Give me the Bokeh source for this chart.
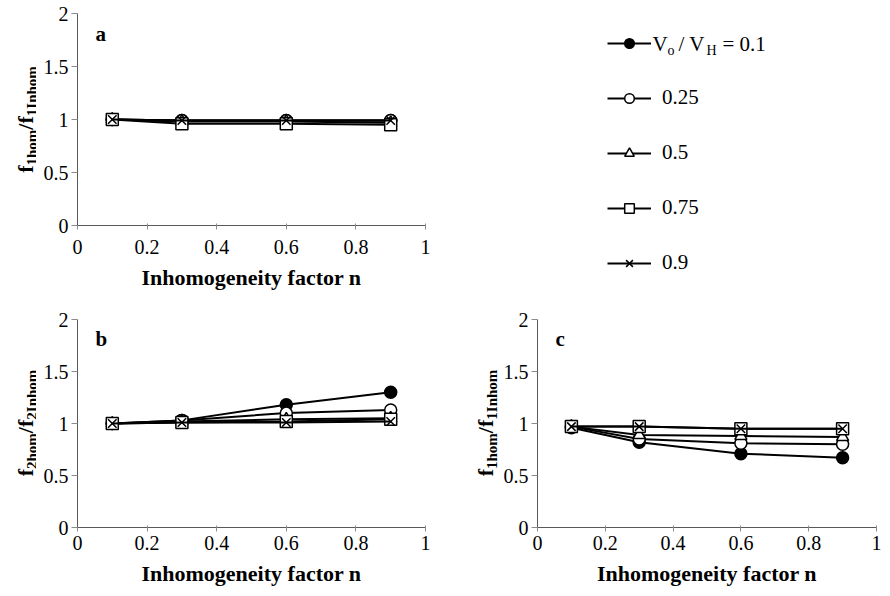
import math
from bokeh.plotting import figure
from bokeh.models import Range1d, FixedTicker, Label, Legend, LegendItem, ColumnDataSource
from bokeh.layouts import row, column
from bokeh.embed import file_html
from bokeh.resources import INLINE

# ---------------- data ----------------
n_values = [0.1, 0.3, 0.6, 0.9]
ratio_labels = ["0.1", "0.25", "0.5", "0.75", "0.9"]

a_r010 = [1.00, 0.99, 0.99, 0.99]
a_r025 = [1.00, 0.99, 0.99, 0.99]
a_r050 = [1.00, 0.98, 0.98, 0.97]
a_r075 = [1.00, 0.96, 0.96, 0.95]
a_r090 = [1.00, 0.99, 0.99, 0.99]

b_r010 = [1.00, 1.03, 1.18, 1.30]
b_r025 = [1.00, 1.03, 1.10, 1.13]
b_r050 = [1.00, 1.02, 1.04, 1.05]
b_r075 = [1.00, 1.01, 1.02, 1.04]
b_r090 = [1.00, 1.01, 1.01, 1.02]

c_r010 = [0.96, 0.82, 0.71, 0.67]
c_r025 = [0.97, 0.85, 0.81, 0.80]
c_r050 = [0.97, 0.89, 0.88, 0.87]
c_r075 = [0.97, 0.97, 0.95, 0.95]
c_r090 = [0.97, 0.97, 0.95, 0.95]

x_ticks = [0, 0.2, 0.4, 0.6, 0.8, 1]
x_tick_labels = ["0", "0.2", "0.4", "0.6", "0.8", "1"]
y_ticks = [0, 0.5, 1, 1.5, 2]
y_tick_labels = ["0", "0.5", "1", "1.5", "2"]

x_title = "Inhomogeneity factor n"

# ---------------- style ----------------
FONT = "Liberation Serif"
markers = ["circle", "circle", "triangle", "square", "x"]
fills = ["black", "white", "white", "white", "white"]

# Times New Roman Bold advance widths (1/1000 em) for the y-title pieces
TNRB = {'f': 333, '1': 500, '2': 500, 'h': 556, 'o': 500, 'm': 833, '/': 278, 'I': 389, 'n': 556}


def tw(s, size):
    return sum(TNRB[c] for c in s) / 1000.0 * size


def style_axes(p, s1, s2):
    xa = p.xaxis[0]
    ya = p.yaxis[0]
    xa.ticker = FixedTicker(ticks=x_ticks)
    xa.major_label_overrides = dict(zip(x_ticks, x_tick_labels))
    ya.ticker = FixedTicker(ticks=y_ticks)
    ya.major_label_overrides = dict(zip(y_ticks, y_tick_labels))
    for ax in (xa, ya):
        ax.axis_line_color = "#595959"
        ax.axis_line_width = 1
        ax.major_tick_line_color = "#8c8c8c"
        ax.minor_tick_line_color = None
        ax.major_label_text_font = FONT
        ax.major_label_text_font_size = "20px"
        ax.major_label_text_color = "black"
    xa.major_tick_in = 2
    xa.major_tick_out = 4
    ya.major_tick_in = 0
    ya.major_tick_out = 6
    xa.major_label_standoff = s1
    ya.major_label_standoff = 3
    xa.axis_label = x_title
    xa.axis_label_text_font = FONT
    xa.axis_label_text_font_size = "22px"
    xa.axis_label_text_font_style = "bold"
    xa.axis_label_text_color = "black"
    xa.axis_label_standoff = s2


def make_panel(width, height, bl, br, bt, bb, series, letter, s1, s2):
    p = figure(width=width, height=height, x_range=Range1d(0, 1), y_range=Range1d(0, 2),
               output_backend="svg", toolbar_location=None, title=None,
               min_border_left=bl, min_border_right=br, min_border_top=bt, min_border_bottom=bb)
    p.grid.visible = False
    p.outline_line_color = None
    style_axes(p, s1, s2)
    frame_h = height - bt - bb
    for vals, mk, fc in zip(series, markers, fills):
        src = ColumnDataSource(dict(n=n_values, v=vals))
        p.line("n", "v", source=src, line_color="black", line_width=2)
        p.scatter("n", "v", source=src, marker=mk, size=12, line_color="black",
                  fill_color=fc, line_width=1.5)
    p.add_layout(Label(x=18, y=frame_h - 20, x_units="screen", y_units="screen", text=letter,
                       text_font=FONT, text_font_size="21px", text_font_style="bold",
                       text_color="black", text_align="left", text_baseline="alphabetic"))
    return p


def make_ylabel(width, height, bt, bb, idx, base_x):
    """Narrow strip (same top/bottom borders as its panel) holding the rotated y title."""
    f = figure(width=width, height=height, x_axis_type=None, y_axis_type=None,
               x_range=Range1d(0, 1), y_range=Range1d(0, 1),
               output_backend="svg", toolbar_location=None, title=None,
               min_border_left=0, min_border_right=0, min_border_top=bt, min_border_bottom=bb)
    f.grid.visible = False
    f.outline_line_color = None
    frame_h = height - bt - bb
    pieces = [("f", False), (idx + "hom", True), ("/f", False), (idx + "Inhom", True)]
    main, sub = 22, 15
    total = sum(tw(t, sub if s else main) for t, s in pieces)
    ypos = frame_h / 2 - total / 2
    for t, s in pieces:
        size = sub if s else main
        f.add_layout(Label(x=base_x + (6 if s else 0), y=ypos, x_units="screen", y_units="screen",
                           text=t, angle=math.pi / 2, text_font=FONT,
                           text_font_size=f"{size}px", text_font_style="bold",
                           text_color="black", text_align="left", text_baseline="alphabetic"))
        ypos += tw(t, size)
    return f


H1 = 293
H2 = 295
# panel a (row 1, left)
ya_fig = make_ylabel(36, H1, 13, 68, "1", 25)
pa = make_panel(416, H1, 41, 27, 13, 68, [a_r010, a_r025, a_r050, a_r075, a_r090], "a", 10, 8)
# panel b (row 2, left)
yb_fig = make_ylabel(36, H2, 26, 60, "2", 25)
pb = make_panel(416, H2, 41, 27, 26, 60, [b_r010, b_r025, b_r050, b_r075, b_r090], "b", 4, 8)
# panel c (row 2, right)
yc_fig = make_ylabel(48, H2, 26, 60, "1", 33)
pc = make_panel(382, H2, 37, 6, 26, 60, [c_r010, c_r025, c_r050, c_r075, c_r090], "c", 4, 8)

# legend (row 1, right)
leg = figure(width=430, height=H1, x_axis_type=None, y_axis_type=None,
             x_range=Range1d(0, 1), y_range=Range1d(10, 11),
             output_backend="svg", toolbar_location=None, title=None,
             min_border_left=155, min_border_top=31, min_border_right=0, min_border_bottom=0)
leg.grid.visible = False
leg.outline_line_color = None
items = []
for i, (lab, mk, fc) in enumerate(zip(ratio_labels, markers, fills)):
    src = ColumnDataSource(dict(n=n_values, v=[a_r010, a_r025, a_r050, a_r075, a_r090][i]))
    lr = leg.line("n", "v", source=src, line_color="black", line_width=2)
    sr = leg.scatter("n", "v", source=src, marker=mk, size=12, line_color="black",
                     fill_color=fc, line_width=1.5)
    items.append(LegendItem(label=(" " if i == 0 else lab), renderers=[lr, sr]))
legend = Legend(items=items, location="top_left", margin=0, padding=0, spacing=30,
                glyph_width=44, glyph_height=24, label_height=24, label_standoff=11,
                label_text_font=FONT, label_text_font_size="21px", label_text_color="black",
                border_line_color=None, background_fill_alpha=0)
leg.add_layout(legend)
# first legend entry: V_o / V_H = 0.1 (with subscripts)
leg_frame_bottom = H1 - 43
first_parts = [("V", 45, 0, "21px"), ("o", 60, -7, "14px"), ("/ V", 71, 0, "21px"),
               ("H", 99, -7, "14px"), ("= " + ratio_labels[0], 115, 0, "21px")]
for t, x, dy, fs in first_parts:
    leg.add_layout(Label(x=x, y=leg_frame_bottom + dy, x_units="screen", y_units="screen", text=t,
                         text_font=FONT, text_font_size=fs, text_align="left",
                         text_baseline="middle", text_color="black"))

layout = row(column(row(ya_fig, pa), row(yb_fig, pb)),
             column(leg, row(yc_fig, pc)))
open("out.html", "w").write(file_html(layout, INLINE))
